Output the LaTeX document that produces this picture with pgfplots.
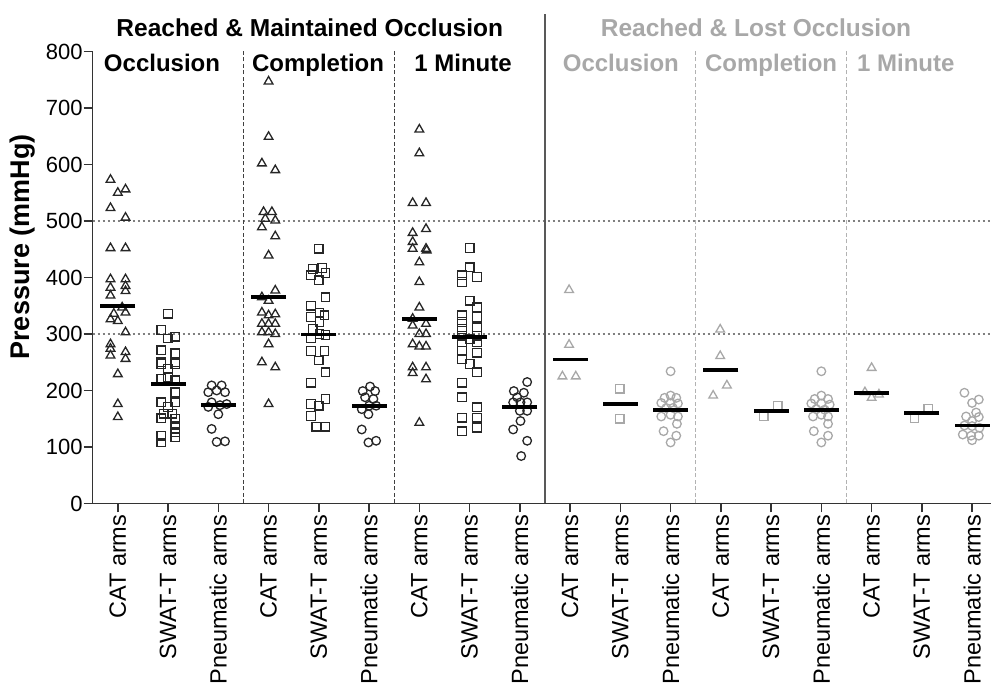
\documentclass[border=0pt]{standalone}
\usepackage{pgfplots}
\pgfplotsset{compat=1.18}
\usepackage{fontspec}
\setmainfont{Liberation Sans}
\definecolor{dk}{gray}{0.15}
\definecolor{lt}{gray}{0.66}
\definecolor{axc}{gray}{0.2}
\begin{document}
\begin{tikzpicture}
\begin{axis}[
  scale only axis, width=898.3pt, height=452pt,
  xmin=-0.5, xmax=17.376, ymin=0, ymax=800,
  axis lines=left,
  axis line style={-, line width=1.5pt, axc},
  tick style={line width=1.5pt, axc},
  tick align=outside, major tick length=9pt,
  xtick={0,...,17},
  xticklabels={CAT arms,SWAT-T arms,Pneumatic arms,CAT arms,SWAT-T arms,Pneumatic arms,CAT arms,SWAT-T arms,Pneumatic arms,CAT arms,SWAT-T arms,Pneumatic arms,CAT arms,SWAT-T arms,Pneumatic arms,CAT arms,SWAT-T arms,Pneumatic arms},
  x tick label style={rotate=90, anchor=east, inner sep=2pt, font=\fontsize{23.5}{23.5}\selectfont},
  ytick={0,100,...,800},
  y tick label style={inner sep=1pt, font=\fontsize{22}{22}\selectfont},
  /pgf/number format/assume math mode=true,
  clip=false,
]
% bounding coordinates
\coordinate (bl) at (axis cs:-2.3448,-319.47);
\coordinate (tr) at (axis cs:17.376,891.15);
% reference lines
\draw[gray, line width=1.3pt, dash pattern=on 2.5pt off 2.5pt] (axis cs:-0.5,300) -- (axis cs:17.376,300);
\draw[gray, line width=1.3pt, dash pattern=on 2.5pt off 2.5pt] (axis cs:-0.5,500) -- (axis cs:17.376,500);
% separators
\draw[black!75, line width=1.2pt, dash pattern=on 4pt off 2.5pt] (axis cs:2.5,0) -- (axis cs:2.5,800);
\draw[black!75, line width=1.2pt, dash pattern=on 4pt off 2.5pt] (axis cs:5.5,0) -- (axis cs:5.5,800);
\draw[black!65, line width=1.5pt] (axis cs:8.5,0) -- (axis cs:8.5,866);
\draw[black!30, line width=1.2pt, dash pattern=on 4pt off 2.5pt] (axis cs:11.5,0) -- (axis cs:11.5,805);
\draw[black!30, line width=1.2pt, dash pattern=on 4pt off 2.5pt] (axis cs:14.5,0) -- (axis cs:14.5,805);
% titles
\node[anchor=base, font=\bfseries\fontsize{24.5}{24.5}\selectfont, text=black] at (axis cs:3.82,827) {Reached \& Maintained Occlusion};
\node[anchor=base, font=\bfseries\fontsize{24.5}{24.5}\selectfont, text=lt] at (axis cs:12.7,827) {Reached \& Lost Occlusion};
\node[anchor=base, font=\bfseries\fontsize{24}{24}\selectfont, text=black] at (axis cs:0.879,764) {Occlusion};
\node[anchor=base, font=\bfseries\fontsize{24}{24}\selectfont, text=black] at (axis cs:3.984,764) {Completion};
\node[anchor=base, font=\bfseries\fontsize{24}{24}\selectfont, text=black] at (axis cs:6.87,764) {1 Minute};
\node[anchor=base, font=\bfseries\fontsize{24}{24}\selectfont, text=lt] at (axis cs:10.01,764) {Occlusion};
\node[anchor=base, font=\bfseries\fontsize{24}{24}\selectfont, text=lt] at (axis cs:13.0,764) {Completion};
\node[anchor=base, font=\bfseries\fontsize{24}{24}\selectfont, text=lt] at (axis cs:15.68,764) {1 Minute};
\node[rotate=90, font=\bfseries\fontsize{27}{27}\selectfont] at (axis cs:-1.887,454) {Pressure (mmHg)};
% ---- Reached & Maintained: black
\addplot[only marks, mark=triangle, mark size=5pt, mark options={draw=dk, line width=1.3pt, solid}] coordinates {
(-0.146,573)(0,550)(0.153,556)(-0.146,523)(0.153,506)(-0.146,452)(0.153,452)(-0.146,397)(0.153,397)(-0.146,382)(0.153,385)(0.153,376)(-0.146,368)(0.086,347)(-0.08,336)(-0.146,326)(0,323)(0.153,338)(0.153,303)(-0.146,282)(-0.146,274)(-0.146,262)(0.153,268)(0.153,256)(0,229)(0,176)(0,153)
(3,747)(3,649)(2.867,602)(3.133,590)(2.9,516)(3.066,516)(2.934,504)(3.133,501)(2.867,489)(3.133,473)(3,439)(3.133,377)(2.867,365)(3,359)(2.867,338)(3,333)(3.133,335)(2.867,318)(3,318)(3.133,318)(2.867,303)(3,303)(3.133,300)(3,282)(2.867,250)(3.133,241)(3,176)
(6,662)(6,620)(5.867,532)(6.133,532)(6.133,486)(5.867,479)(5.867,463)(5.867,451)(6.133,451)(6.146,448)(6,427)(6,392)(6,347)(5.867,327)(6.133,318)(5.867,315)(6,300)(6.133,300)(5.867,282)(6,278)(6.133,278)(5.867,241)(6.133,241)(5.867,231)(6.133,220)(6,143)
};
\addplot[only marks, mark=square, mark size=4.3pt, mark options={draw=dk, line width=1.3pt, solid}] coordinates {
(1,336)(0.867,307)(1.146,295)(1,292)(0.867,271)(1.146,266)(0.867,250)(1.146,250)(0.867,247)(1.146,247)(1,238)(1,224)(0.867,221)(1.146,218)(1.146,197)(0.867,179)(1.146,179)(1,171)(0.914,159)(1.08,159)(0.867,151)(1.146,150)(1.146,138)(1.146,126)(1.146,117)(0.867,120)(0.867,108)
(4,451)(3.88,415)(4.066,417)(3.847,404)(4,395)(4.133,408)(4.133,365)(3.847,350)(4.013,338)(4.113,333)(3.847,330)(4.013,321)(3.88,309)(4.013,300)(4.133,298)(3.847,292)(3.847,270)(4.113,270)(4,253)(4.133,232)(3.847,214)(4.133,185)(3.847,176)(4,173)(3.847,155)(3.947,136)(4.133,136)
(7,452)(7,418)(6.847,404)(7.146,401)(6.847,392)(7,359)(7.146,347)(6.847,333)(7.146,330)(6.847,321)(6.847,309)(7.146,312)(6.847,297)(7.146,297)(7,291)(6.847,285)(7.146,285)(6.847,270)(7.146,267)(6.847,256)(7,247)(7.146,232)(6.847,214)(6.847,188)(7.146,170)(6.847,152)(7.146,152)(7.146,134)(6.847,128)
};
\addplot[only marks, mark=o, mark size=4.3pt, mark options={draw=dk, line width=1.3pt, solid}] coordinates {
(1.867,209)(2.066,209)(1.8,197)(1.967,200)(2.133,197)(1.867,179)(2.033,174)(2.166,176)(1.8,171)(2,158)(1.867,132)(1.967,109)(2.133,110)
(4.874,199)(5.02,207)(5.12,199)(4.92,188)(5.086,185)(4.854,167)(5,173)(5.14,173)(4.987,158)(4.854,131)(4.987,108)(5.14,111)
(8.146,215)(7.88,199)(8.08,196)(7.947,188)(7.867,179)(8.013,179)(8.146,179)(8,164)(8.146,164)(8.013,146)(7.867,131)(8.146,111)(8.027,84)
};
% ---- Reached & Lost: gray
\addplot[only marks, mark=triangle, mark size=5pt, mark options={draw=lt, line width=1.3pt, solid}] coordinates {
(8.98,378)(8.98,281)(8.847,225)(9.113,225)
(11.987,308)(11.987,261)(12.12,209)(11.847,191)
(15,240)(14.867,197)(15.146,193)(15,187)
};
\addplot[only marks, mark=square, mark size=4.3pt, mark options={draw=lt, line width=1.3pt, solid}] coordinates {
(9.987,203)(9.987,150)
(13.133,173)(12.854,154)
(16.126,167)(15.854,151)
};
\addplot[only marks, mark=o, mark size=4.3pt, mark options={draw=lt, line width=1.3pt, solid}] coordinates {
(11,234)(11,191)(10.88,187)(11.113,187)(10.814,178)(11,178)(11.146,177)(10.914,169)(11.046,169)(10.814,154)(11,157)(11.146,154)(11.126,141)(10.86,128)(11.113,120)(11,108)
(14,234)(14,191)(13.867,185)(14.133,185)(13.8,177)(14,177)(14.166,175)(13.9,167)(14.066,166)(13.834,154)(14,157)(14.133,154)(14.133,141)(13.85,128)(14.133,120)(14,108)
(16.847,196)(17.133,184)(17,178)(17.08,161)(16.88,154)(17.133,153)(17,146)(16.847,138)(17,137)(17.146,134)(16.814,122)(16.98,120)(17.133,120)(17,112)
};
% ---- means
\addplot[only marks, mark=-, mark size=17.5pt, mark options={draw=black, line width=3.8pt, solid}] coordinates {
(0,349)(1,211)(2,174)(3,365)(4,299)(5,172)(6,327)(7,294)(8,171)
(9,255)(10,176)(11,165)(12,236)(13,163)(14,165)(15,195)(16,160)(17,138)
};
\end{axis}
\pgfresetboundingbox
\path[use as bounding box] (bl) rectangle (tr);
\end{tikzpicture}
\end{document}
